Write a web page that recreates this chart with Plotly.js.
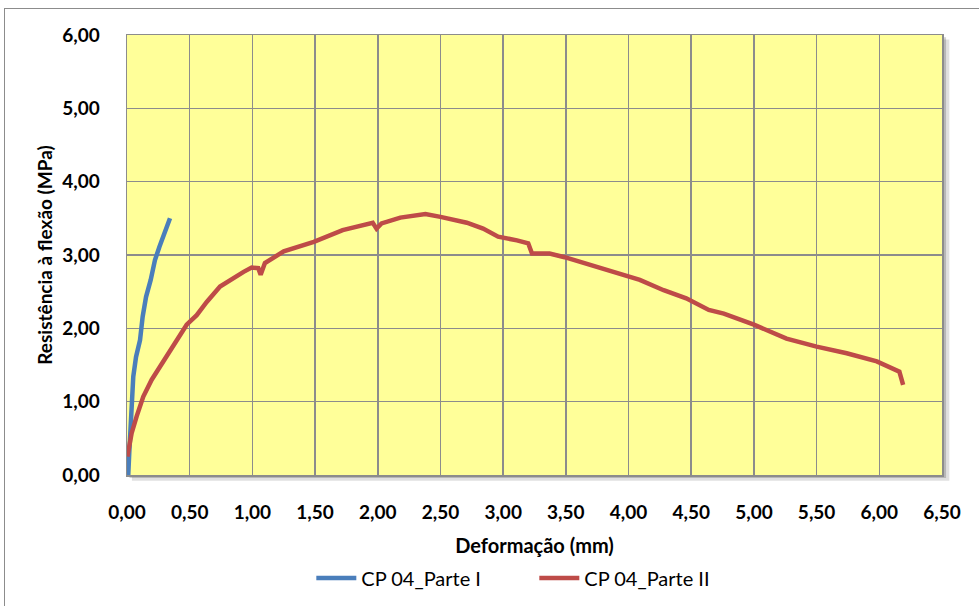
<!DOCTYPE html>
<html>
<head>
<meta charset="utf-8">
<script src="https://cdn.plot.ly/plotly-3.0.1.min.js"></script>
<style>
  html, body { margin: 0; padding: 0; background: #ffffff; overflow: hidden; }
  #frame { position: absolute; left: 4px; top: 8px; width: 1000px; height: 700px; border: 1px solid #8c8c8c; }
  #chart { position: absolute; left: 0; top: 0; width: 979px; height: 606px; }
</style>
</head>
<body>
<div id="frame"></div>
<div id="chart"></div>
<script>
// Data
const seriesNames = ["CP 04_Parte I", "CP 04_Parte II"];

const parte1X = [0.00, 0.01, 0.018, 0.029, 0.037, 0.05, 0.072, 0.104, 0.125, 0.152, 0.189, 0.223, 0.258, 0.295, 0.343];
const parte1Y = [0.00, 0.00, 0.30, 0.66, 1.02, 1.34, 1.61, 1.84, 2.16, 2.43, 2.66, 2.93, 3.11, 3.30, 3.50];

const parte2X = [0.003, 0.037, 0.077, 0.13, 0.197, 0.263, 0.343, 0.42, 0.476, 0.556, 0.636, 0.742, 0.82, 0.93, 0.994, 1.047, 1.066, 1.087, 1.10, 1.25, 1.49, 1.72, 1.96, 1.99, 2.03, 2.18, 2.38, 2.50, 2.71, 2.84, 2.96, 3.11, 3.20, 3.23, 3.27, 3.37, 3.49, 3.64, 3.77, 3.93, 4.09, 4.28, 4.46, 4.64, 4.76, 5.00, 5.26, 5.50, 5.74, 5.98, 6.16, 6.19];
const parte2Y = [0.25, 0.57, 0.80, 1.07, 1.30, 1.48, 1.68, 1.89, 2.05, 2.18, 2.36, 2.57, 2.66, 2.77, 2.83, 2.82, 2.73, 2.84, 2.89, 3.05, 3.18, 3.34, 3.44, 3.36, 3.43, 3.51, 3.56, 3.52, 3.44, 3.36, 3.25, 3.20, 3.16, 3.02, 3.02, 3.02, 2.97, 2.89, 2.82, 2.75, 2.66, 2.52, 2.41, 2.25, 2.20, 2.05, 1.86, 1.75, 1.66, 1.55, 1.41, 1.23];

const xTitle = "Deformação (mm)";
const yTitle = "Resistência à flexão (MPa)";

const FONT = "Lato, 'Open Sans', sans-serif";

const traces = [
  { x: parte1X, y: parte1Y, name: seriesNames[0], type: "scatter", mode: "lines",
    line: { color: "#4a7ebb", width: 4.5 } },
  { x: parte2X, y: parte2Y, name: seriesNames[1], type: "scatter", mode: "lines",
    line: { color: "#be4b48", width: 4.5 } }
];

const layout = {
  width: 979, height: 606,
  margin: { l: 127, r: 37, t: 35, b: 131, autoexpand: false },
  paper_bgcolor: "rgba(0,0,0,0)",
  plot_bgcolor: "rgba(0,0,0,0)",
  separators: ",.",
  font: { family: FONT, color: "#000000" },
  showlegend: true,
  legend: {
    orientation: "h", x: 0.318, xref: "container", xanchor: "left",
    y: 0.046, yref: "container", yanchor: "middle",
    font: { family: FONT, size: 20, color: "#000000" },
    itemwidth: 40, tracegroupgap: 0, entrywidth: 168, entrywidthmode: "pixels"
  },
  xaxis: {
    range: [0, 6.5], dtick: 0.5, tick0: 0, tickformat: ".2f",
    showgrid: true, gridcolor: "#8c8c8c", gridwidth: 1.5,
    showline: true, linecolor: "#8c8c8c", linewidth: 1.5, mirror: true,
    zeroline: false, ticks: "outside", ticklen: 20, tickcolor: "rgba(0,0,0,0)",
    automargin: false,
    tickfont: { family: FONT, size: 19, color: "#000000", weight: "bold" },
    title: { text: "<b>" + xTitle + "</b>", font: { family: FONT, size: 20, color: "#000000" }, standoff: 16 }
  },
  yaxis: {
    range: [0, 6], dtick: 1, tick0: 0, tickformat: ".2f",
    showgrid: true, gridcolor: "#8c8c8c", gridwidth: 1.5,
    showline: true, linecolor: "#8c8c8c", linewidth: 1.5, mirror: true,
    zeroline: false, ticks: "outside", ticklen: 22, tickcolor: "rgba(0,0,0,0)",
    automargin: false,
    tickfont: { family: FONT, size: 19, color: "#000000", weight: "bold" },
    title: { text: "<b>" + yTitle + "</b>", font: { family: FONT, size: 19, color: "#000000" }, standoff: 4 }
  },
  shapes: [
    { type: "rect", xref: "paper", yref: "paper", x0: 0.006, x1: 1.009, y0: -0.013, y1: 0.99,
      line: { width: 0 }, fillcolor: "rgba(0,0,0,0.12)", layer: "below" },
    { type: "rect", xref: "paper", yref: "paper", x0: 0.003, x1: 1.005, y0: -0.007, y1: 0.995,
      line: { width: 0 }, fillcolor: "rgba(0,0,0,0.18)", layer: "below" },
    { type: "rect", xref: "paper", yref: "paper", x0: 0, x1: 1, y0: 0, y1: 1,
      line: { width: 0 }, fillcolor: "#ffff99", layer: "below" }
  ]
};

Plotly.newPlot("chart", traces, layout, { displayModeBar: false, staticPlot: true });
</script>
</body>
</html>
